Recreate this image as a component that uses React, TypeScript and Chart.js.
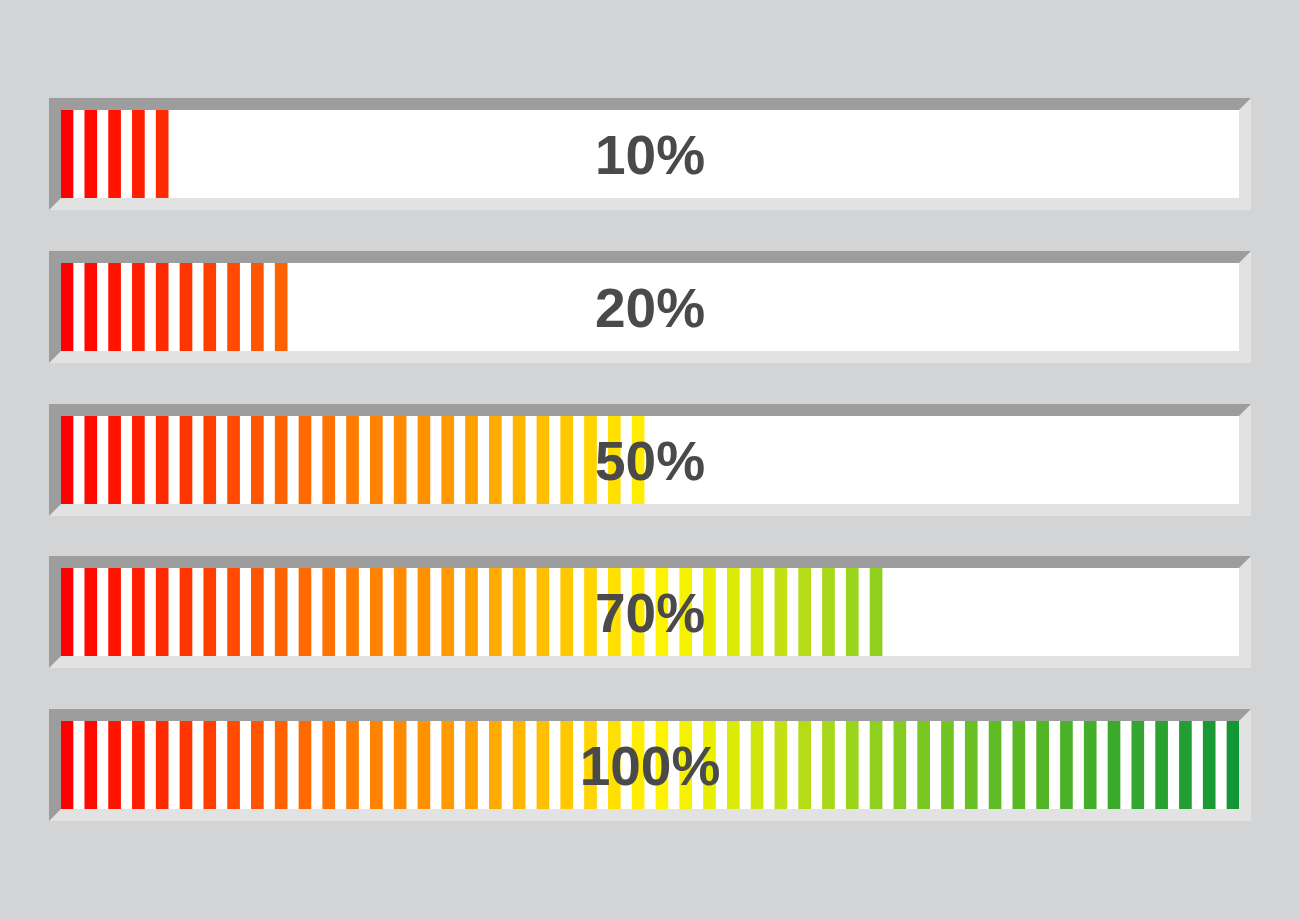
import { useEffect, useRef } from 'react';
import { Chart, registerables } from 'chart.js';

Chart.register(...registerables);

// progress levels, one bar per entry
const PROGRESS_VALUES = [10, 20, 50, 70, 100];
const PROGRESS_LABELS = ['10%', '20%', '50%', '70%', '100%'];

// 50 stripes, each worth 2%
const STRIPE_INDEX = [
  0, 1, 2, 3, 4, 5, 6, 7, 8, 9, 10, 11, 12, 13, 14, 15, 16, 17, 18, 19, 20, 21, 22, 23, 24,
  25, 26, 27, 28, 29, 30, 31, 32, 33, 34, 35, 36, 37, 38, 39, 40, 41, 42, 43, 44, 45, 46, 47, 48, 49,
];
const STRIPE_STEP = 2;
const STRIPE_COLORS = [
  '#ff0000', '#ff0a00', '#ff1400', '#ff1e00', '#ff2a00', '#ff3400', '#ff3e00', '#ff4a00', '#ff5400', '#ff6000',
  '#ff6a00', '#ff7200', '#ff7a00', '#ff8200', '#ff8a00', '#ff9200', '#ff9a00', '#ffa200', '#ffaa00', '#ffb400',
  '#ffbe00', '#ffc800', '#ffd400', '#ffe000', '#ffec00', '#fff400', '#f4f200', '#e8ef04', '#dcea08', '#cfe60e',
  '#c2e012', '#b5dc16', '#a8d81a', '#9bd41c', '#8fd01e', '#84cc20', '#7ac822', '#70c424', '#68c024', '#60bc24',
  '#5ab824', '#52b526', '#4ab228', '#42ae2a', '#3aaa2c', '#32a62e', '#2aa230', '#229e32', '#1a9a34', '#129636',
];

const BG = '#d3d4d6';
const DARK = '#9d9d9d';
const LIGHT = '#e2e2e3';
const STRIPE_W = 12;
const INNER_W = 1178;
const INNER_H = 88;
const BORDER = 12;

interface BarProps { value: number; label: string; top: number }

function ProgressBar({ value, label, top }: BarProps) {
  const ref = useRef<HTMLCanvasElement>(null);
  const ci = useRef<Chart | null>(null);

  useEffect(() => {
    if (!ref.current) return;
    ci.current?.destroy();
    const last = STRIPE_INDEX.length - 1;
    const pitch = (INNER_W - STRIPE_W) / last;
    const pad = STRIPE_W / 2 / pitch;
    const labelPlugin = {
      id: 'centerLabel',
      afterDatasetsDraw(chart: Chart) {
        const { ctx, chartArea } = chart;
        const size = 55;
        ctx.save();
        ctx.font = `bold ${size}px "Liberation Sans", Arial, sans-serif`;
        ctx.fillStyle = '#4a4a4a';
        ctx.textAlign = 'center';
        ctx.textBaseline = 'alphabetic';
        const cx = (chartArea.left + chartArea.right) / 2;
        const cy = (chartArea.top + chartArea.bottom) / 2;
        ctx.fillText(label, cx, cy + size * 0.716 / 2);
        ctx.restore();
      },
    };
    ci.current = new Chart(ref.current, {
      type: 'bar',
      data: {
        datasets: [{
          data: STRIPE_INDEX.map(i => ({ x: i, y: (i + 1) * STRIPE_STEP <= value ? 1 : null })) as any,
          backgroundColor: STRIPE_COLORS,
          borderWidth: 0,
          barThickness: STRIPE_W,
        }],
      },
      options: {
        animation: false, responsive: true, maintainAspectRatio: false, events: [],
        layout: { padding: 0 },
        scales: {
          x: { type: 'linear', display: false, offset: false, grid: { offset: false }, min: -pad, max: last + pad },
          y: { display: false, min: 0, max: 1 },
        },
        plugins: { legend: { display: false }, tooltip: { enabled: false } },
      },
      plugins: [labelPlugin],
    });
    return () => { ci.current?.destroy(); ci.current = null; };
  }, [value, label]);

  return (
    <div style={{
      position: 'absolute', left: 49, top, width: INNER_W, height: INNER_H,
      borderStyle: 'solid', borderWidth: BORDER,
      borderTopColor: DARK, borderLeftColor: DARK, borderRightColor: LIGHT, borderBottomColor: LIGHT,
      background: '#ffffff',
    }}>
      <div style={{ position: 'relative', width: INNER_W, height: INNER_H }}><canvas ref={ref} /></div>
    </div>
  );
}

export default function App() {
  return (
    <div style={{ position: 'fixed', inset: 0, background: BG, overflow: 'hidden' }}>
      {PROGRESS_VALUES.map((v, k) => (
        <ProgressBar key={k} value={v} label={PROGRESS_LABELS[k]} top={98 + Math.round(k * 152.75)} />
      ))}
    </div>
  );
}
